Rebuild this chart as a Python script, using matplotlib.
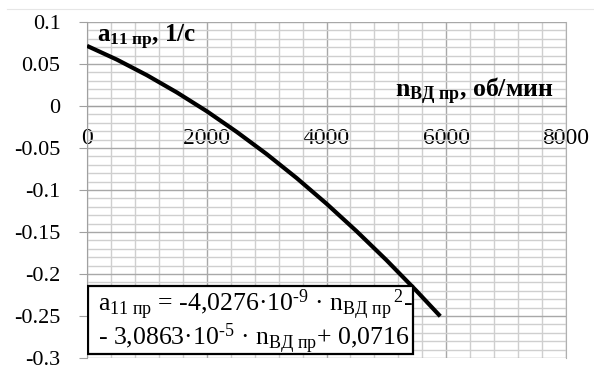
import matplotlib.pyplot as plt
import matplotlib.lines as mlines
from matplotlib.patches import Rectangle
from matplotlib.ticker import MultipleLocator, FixedLocator

plt.rcParams['font.family'] = ['Liberation Serif', 'DejaVu Serif']
plt.rcParams['mathtext.fontset'] = 'custom'
plt.rcParams['mathtext.rm'] = 'Liberation Serif'
plt.rcParams['mathtext.it'] = 'Liberation Serif:italic'
plt.rcParams['mathtext.bf'] = 'Liberation Serif:bold'

# values
n_vd = [0, 500, 1000, 1500, 2000, 2500, 3000, 3500, 4000, 4500, 5000, 5500, 5900]
a11 = [0.0716, 0.0552, 0.0367, 0.0162, -0.0062, -0.0308, -0.0572,
       -0.0857, -0.1163, -0.1489, -0.1834, -0.2199, -0.2503]

x_ticks = [0, 2000, 4000, 6000, 8000]
y_ticks = [0.1, 0.05, 0, -0.05, -0.1, -0.15, -0.2, -0.25, -0.3]
y_labels = ['0.1', '0.05', '0', '-0.05', '-0.1', '-0.15', '-0.2', '-0.25', '-0.3']

fig = plt.figure(figsize=(5.94, 3.72), dpi=100)
# plot area in pixels: x 87..566, y 22..358
ax = fig.add_axes([87/594, 1 - 358/372, 479/594, 336/372])

ax.set_xlim(0, 8000)
ax.set_ylim(-0.3, 0.1)

ax.xaxis.set_major_locator(FixedLocator(x_ticks))
ax.xaxis.set_minor_locator(MultipleLocator(400))
ax.yaxis.set_major_locator(FixedLocator(y_ticks))
ax.yaxis.set_minor_locator(MultipleLocator(0.01))
ax.set_yticklabels(y_labels)
ax.set_xticklabels([str(t) for t in x_ticks])

ax.grid(which='major', color='#a8a8a8', lw=1.0)
ax.grid(which='minor', color='#cfcfcf', lw=1.0)
ax.set_axisbelow(True)

ax.spines['top'].set_visible(False)
ax.spines['right'].set_color('#b0b0b0')
ax.spines['left'].set_color('#a0a0a0')
ax.spines['bottom'].set_position(('data', 0))
ax.spines['bottom'].set_color('#a0a0a0')

ax.tick_params(axis='y', which='major', length=6, color='#a0a0a0', pad=13,
               labelsize=16)
ax.tick_params(axis='x', which='major', length=0, pad=16, labelsize=17)
ax.tick_params(which='minor', length=0)

ax.plot(n_vd, a11, color='black', lw=3.0, solid_capstyle='butt', zorder=3)

ax.text(10/479, 1 - 1/336, r'$\mathbf{a_{11\ пр}}$, 1/с', transform=ax.transAxes,
        fontsize=18, fontweight='bold', va='top', ha='left')
ax.text(308/479, 261/336, r'$\mathbf{n_{ВД\ пр}}$, об/мин', transform=ax.transAxes,
        fontsize=18.5, fontweight='bold', va='baseline', ha='left')

box = Rectangle((1/479, 4/336), 325/479, 68/336, transform=ax.transAxes,
                facecolor='white', edgecolor='black', lw=1.6, zorder=4)
ax.add_patch(box)
eq1 = r'$\mathrm{a_{11\ пр}}$ = -4,0276·10$^{\text{-}9}$ · n$_{\mathrm{ВД\ пр}}\,{}^{2}$-'
eq2 = r'- 3,0863·10$^{\text{-}5}$ · n$_{\mathrm{ВД\ пр}}$+ 0,0716'
ax.text(11/479, (358 - 311)/336, eq1, transform=ax.transAxes, fontsize=18.5,
        va='baseline', ha='left', zorder=5)
ax.text(11/479, (358 - 345)/336, eq2, transform=ax.transAxes, fontsize=18.5,
        va='baseline', ha='left', zorder=5)

fig.add_artist(mlines.Line2D([7/594, 1], [1 - 9/372, 1 - 9/372],
                             color='#e6e6e6', lw=0.8))

fig.savefig('out.png', dpi=100)
